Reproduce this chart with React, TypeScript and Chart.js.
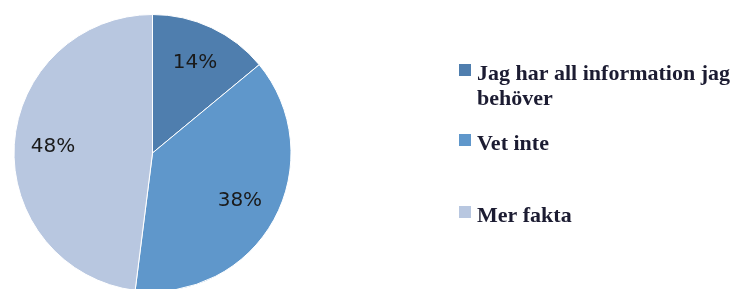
import React, { useEffect, useRef } from "react";
import { Chart, registerables } from "chart.js";

Chart.register(...registerables);

const categories: string[][] = [["Jag har all information jag", "behöver"], ["Vet inte"], ["Mer fakta"]];
const values: number[] = [14, 38, 48];
const percentLabels: string[] = ["14%", "38%", "48%"];
const colors: string[] = ["#4F7EAE", "#5F97CB", "#B8C7E0"];

const legendPlugin = {
  id: "customLegend",
  afterDraw(chart: any) {
    const ctx = chart.ctx;
    const meta = chart.getDatasetMeta(0);
    ctx.save();
    // percentage labels
    ctx.font = "20px 'DejaVu Sans', sans-serif";
    ctx.fillStyle = "#1a1a1a";
    ctx.textAlign = "center";
    ctx.textBaseline = "middle";
    meta.data.forEach((arc: any, i: number) => {
      const p = arc.getProps(["x", "y", "startAngle", "endAngle", "outerRadius"], true);
      const mid = (p.startAngle + p.endAngle) / 2;
      const r = p.outerRadius * 0.72;
      ctx.fillText(percentLabels[i], p.x + Math.cos(mid) * r, p.y + Math.sin(mid) * r);
    });
    // legend
    const labels = chart.data.labels as string[][];
    const baselines = [80, 150, 222];
    ctx.textAlign = "left";
    ctx.textBaseline = "alphabetic";
    ctx.font = "bold 22px 'Liberation Serif', serif";
    labels.forEach((lines, i) => {
      ctx.fillStyle = colors[i];
      ctx.fillRect(459, baselines[i] - 16, 12, 12);
      ctx.fillStyle = "#1c1c32";
      lines.forEach((line, j) => {
        ctx.fillText(line, 477, baselines[i] + j * 25);
      });
    });
    ctx.restore();
  },
};

export default function App() {
  const ref = useRef<HTMLCanvasElement>(null);
  useEffect(() => {
    if (!ref.current) return;
    const chart = new Chart(ref.current, {
      type: "pie",
      data: {
        labels: categories as any,
        datasets: [
          {
            data: values,
            backgroundColor: colors,
            borderColor: "#ffffff",
            borderWidth: 1,
          },
        ],
      },
      options: {
        responsive: false,
        animation: false,
        layout: { padding: { left: 13, top: 14, right: 441, bottom: 8 } },
        plugins: { legend: { display: false }, tooltip: { enabled: false } },
      },
      plugins: [legendPlugin],
    });
    return () => chart.destroy();
  }, []);
  return (
    <div style={{ position: "absolute", left: 0, top: 0, width: 733, height: 289, overflow: "hidden", background: "#fff" }}>
      <canvas ref={ref} width={733} height={300} style={{ display: "block" }} />
    </div>
  );
}
